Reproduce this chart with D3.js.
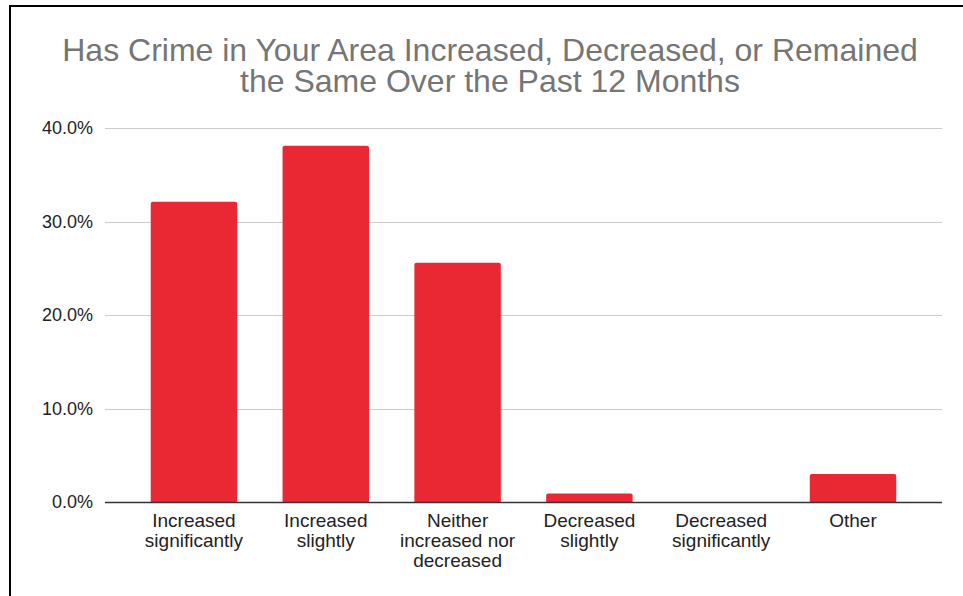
<!DOCTYPE html>
<html>
<head>
<meta charset="utf-8">
<script src="https://cdn.jsdelivr.net/npm/d3@7"></script>
<style>
  html, body { margin: 0; padding: 0; background: #fff; }
  svg { display: block; font-family: "Liberation Sans", Arial, Helvetica, sans-serif; }
</style>
</head>
<body>
<svg id="chart" width="963" height="596"></svg>
<script>
// Survey answers and share of respondents (%)
const categories = [
  ["Increased", "significantly"],
  ["Increased", "slightly"],
  ["Neither", "increased nor", "decreased"],
  ["Decreased", "slightly"],
  ["Decreased", "significantly"],
  ["Other"]
];
const values = [32.1, 38.1, 25.6, 0.9, 0, 3.0];
const yTicks = [0, 10, 20, 30, 40];
const titleLines = [
  "Has Crime in Your Area Increased, Decreased, or Remained",
  "the Same Over the Past 12 Months"
];

const svg = d3.select("#chart");
const W = 963, H = 596;
const plot = { left: 105, right: 942, top: 128, bottom: 502 };

// frame
svg.append("path")
  .attr("d", `M10,${H + 5} L10,6 L${W + 5},6`)
  .attr("fill", "none")
  .attr("stroke", "#000")
  .attr("stroke-width", 2);

// title
svg.append("g")
  .selectAll("text")
  .data(titleLines)
  .join("text")
  .attr("x", 490)
  .attr("y", (d, i) => 61 + i * 31)
  .attr("text-anchor", "middle")
  .attr("font-size", 32)
  .attr("fill", "#757575")
  .text(d => d);

const x = d3.scaleBand()
  .domain(d3.range(categories.length))
  .range([plot.left, plot.right])
  .paddingInner(0.344)
  .paddingOuter(0.347)
  .align(0.5);

const y = d3.scaleLinear()
  .domain([0, 40])
  .range([plot.bottom, plot.top]);

// gridlines
svg.append("g")
  .selectAll("line")
  .data(yTicks.filter(t => t > 0))
  .join("line")
  .attr("x1", plot.left).attr("x2", plot.right)
  .attr("y1", d => Math.round(y(d)) + 0.5)
  .attr("y2", d => Math.round(y(d)) + 0.5)
  .attr("stroke", "#cccccc")
  .attr("stroke-width", 1);

// y tick labels
svg.append("g")
  .selectAll("text")
  .data(yTicks)
  .join("text")
  .attr("x", 93)
  .attr("y", d => y(d) + 6)
  .attr("text-anchor", "end")
  .attr("font-size", 18)
  .attr("fill", "#222")
  .text(d => d3.format(".1f")(d) + "%");

// bars with rounded top corners
const r = 2;
svg.append("g")
  .selectAll("path")
  .data(values.map((v, i) => ({ v, i })).filter(d => d.v > 0))
  .join("path")
  .attr("fill", "#ea2833")
  .attr("d", d => {
    const x0 = x(d.i), x1 = x(d.i) + x.bandwidth();
    const y0 = y(0), y1 = y(d.v);
    const rr = Math.min(r, (y0 - y1));
    return `M${x0},${y0} L${x0},${y1 + rr} Q${x0},${y1} ${x0 + rr},${y1} ` +
           `L${x1 - rr},${y1} Q${x1},${y1} ${x1},${y1 + rr} L${x1},${y0} Z`;
  });

// baseline
svg.append("line")
  .attr("x1", plot.left).attr("x2", plot.right)
  .attr("y1", y(0) + 0.5).attr("y2", y(0) + 0.5)
  .attr("stroke", "#333")
  .attr("stroke-width", 1.3);

// category labels
const xl = svg.append("g")
  .selectAll("text")
  .data(categories)
  .join("text")
  .attr("x", (d, i) => x(i) + x.bandwidth() / 2)
  .attr("y", 527)
  .attr("text-anchor", "middle")
  .attr("font-size", 19)
  .attr("fill", "#222");
xl.selectAll("tspan")
  .data(d => d)
  .join("tspan")
  .attr("x", function () { return this.parentNode.getAttribute("x"); })
  .attr("dy", (d, i) => i === 0 ? 0 : 20)
  .text(d => d);
</script>
</body>
</html>
